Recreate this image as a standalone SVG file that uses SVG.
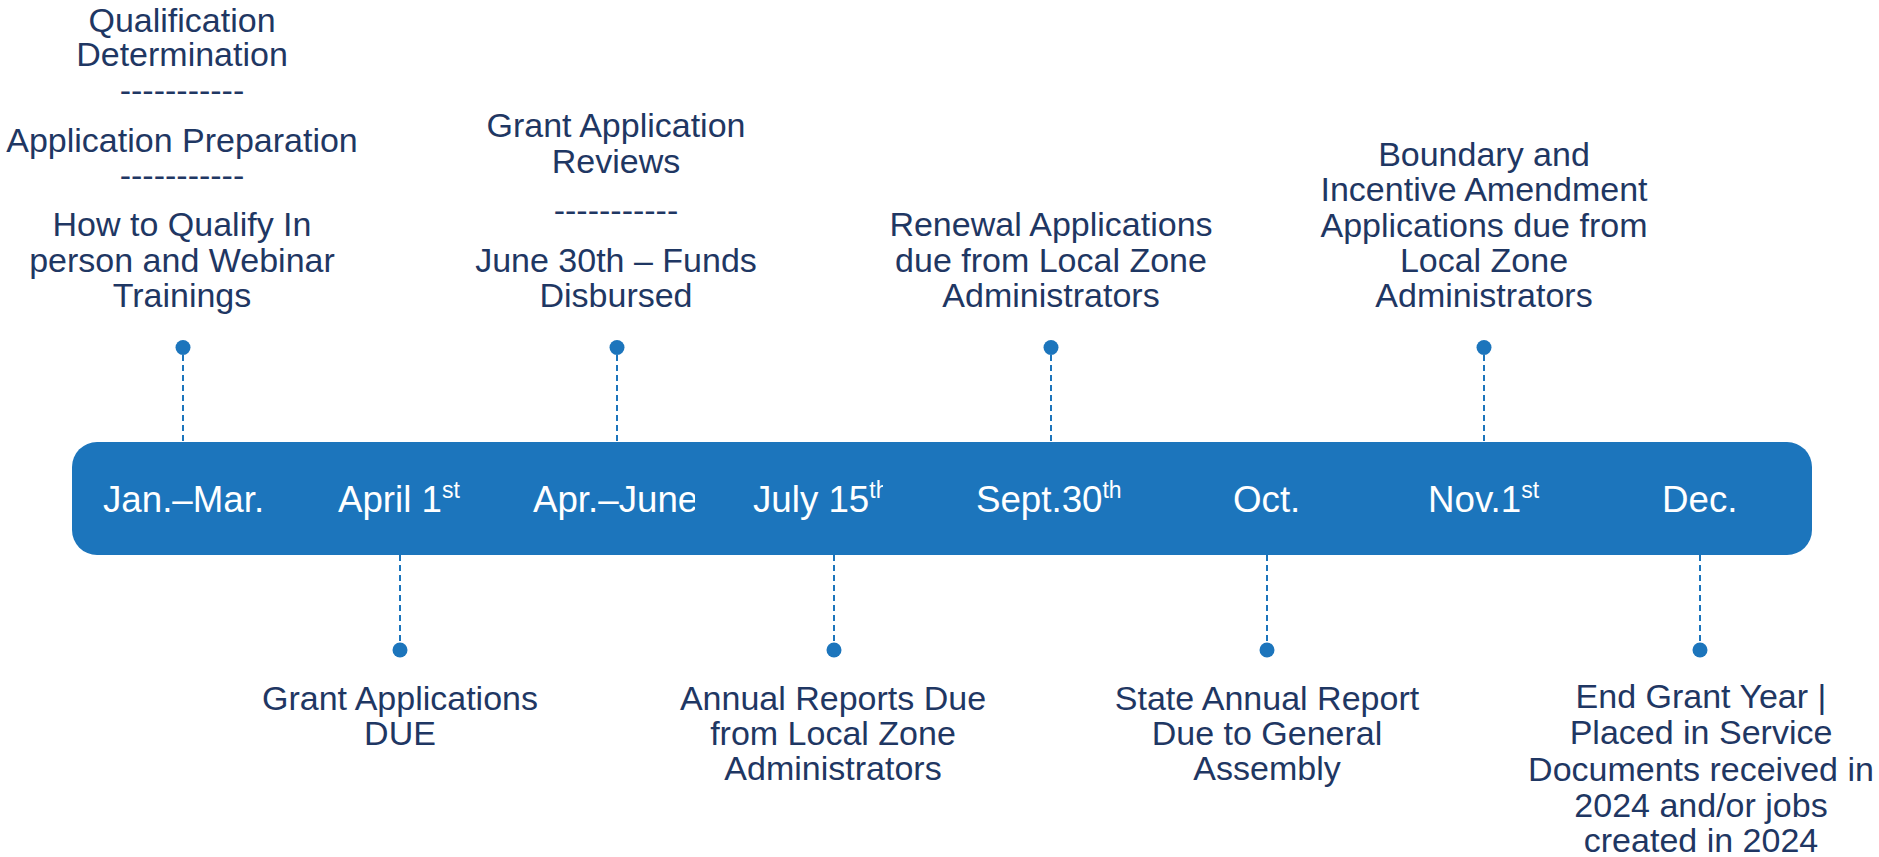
<svg xmlns="http://www.w3.org/2000/svg" width="1879" height="857" viewBox="0 0 1879 857">
  <style>
    .seg { fill: #1C75BC; }
    .month { font-family: "Liberation Sans", Arial, sans-serif; font-size: 36.7px; fill: #FFFFFF; }
    .sup { font-size: 23px; }
    .label { font-family: "Liberation Sans", Arial, sans-serif; font-size: 34px; fill: #1F3763; text-anchor: middle; }
    .lead { fill: none; stroke: #1C75BC; stroke-width: 2; stroke-dasharray: 6 4; }
    .dot { fill: #1C75BC; }
  </style>
  <rect width="1879" height="857" fill="#FFFFFF"/>

  <!-- timeline bar: one segment per period, later segments overlap earlier ones -->
  <g id="bar">
    <g id="seg-jan-mar">
      <path class="seg" d="M97 442 H292 V555 H97 A25 25 0 0 1 72 530 V467 A25 25 0 0 1 97 442 Z"/>
      <text class="month" x="103" y="511.5">Jan.–Mar.</text>
    </g>
    <g id="seg-april-1">
      <rect class="seg" x="292" y="442" width="216" height="113"/>
      <text class="month" x="338" y="511.5">April 1<tspan class="sup" dy="-13.5">st</tspan></text>
    </g>
    <g id="seg-apr-june">
      <rect class="seg" x="508" y="442" width="187" height="113"/>
      <text class="month" x="533" y="511.5">Apr.–June</text>
    </g>
    <g id="seg-july-15">
      <rect class="seg" x="695" y="442" width="188" height="113"/>
      <text class="month" x="753" y="511.5">July 15<tspan class="sup" dy="-13.5">th</tspan></text>
    </g>
    <g id="seg-sept-30">
      <rect class="seg" x="883" y="442" width="275" height="113"/>
      <text class="month" x="976" y="511.5">Sept.30<tspan class="sup" dy="-13.5">th</tspan></text>
    </g>
    <g id="seg-oct">
      <rect class="seg" x="1158" y="442" width="217" height="113"/>
      <text class="month" x="1233" y="511.5">Oct.</text>
    </g>
    <g id="seg-nov-1">
      <rect class="seg" x="1375" y="442" width="218" height="113"/>
      <text class="month" x="1428" y="511.5">Nov.1<tspan class="sup" dy="-13.5">st</tspan></text>
    </g>
    <g id="seg-dec">
      <path class="seg" d="M1593 442 H1787 A25 25 0 0 1 1812 467 V530 A25 25 0 0 1 1787 555 H1593 Z"/>
      <text class="month" x="1662" y="511.5">Dec.</text>
    </g>
  </g>

  <!-- dashed leaders from the bar to each milestone dot -->
  <g id="connectors">
    <line class="lead" x1="183" y1="355" x2="183" y2="442"/>
    <line class="lead" x1="617" y1="355" x2="617" y2="442"/>
    <line class="lead" x1="1051" y1="355" x2="1051" y2="442"/>
    <line class="lead" x1="1484" y1="355" x2="1484" y2="442"/>
    <line class="lead" x1="400" y1="555" x2="400" y2="642"/>
    <line class="lead" x1="834" y1="555" x2="834" y2="642"/>
    <line class="lead" x1="1267" y1="555" x2="1267" y2="642"/>
    <line class="lead" x1="1700" y1="555" x2="1700" y2="642"/>
    <circle class="dot" cx="183" cy="347.5" r="7.5"/>
    <circle class="dot" cx="617" cy="347.5" r="7.5"/>
    <circle class="dot" cx="1051" cy="347.5" r="7.5"/>
    <circle class="dot" cx="1484" cy="347.5" r="7.5"/>
    <circle class="dot" cx="400" cy="650" r="7.5"/>
    <circle class="dot" cx="834" cy="650" r="7.5"/>
    <circle class="dot" cx="1267" cy="650" r="7.5"/>
    <circle class="dot" cx="1700" cy="650" r="7.5"/>
  </g>

  <!-- milestone labels above the bar -->
  <g id="label-jan-mar">
    <text class="label" x="182" y="31.5">Qualification</text>
    <text class="label" x="182" y="66">Determination</text>
    <text class="label" x="182" y="102">-----------</text>
    <text class="label" x="182" y="151.5">Application Preparation</text>
    <text class="label" x="182" y="187">-----------</text>
    <text class="label" x="182" y="236">How to Qualify In</text>
    <text class="label" x="182" y="271.5">person and Webinar</text>
    <text class="label" x="182" y="306.5">Trainings</text>
  </g>
  <g id="label-apr-june">
    <text class="label" x="616" y="136.5">Grant Application</text>
    <text class="label" x="616" y="173">Reviews</text>
    <text class="label" x="616" y="222">-----------</text>
    <text class="label" x="616" y="271.5">June 30th – Funds</text>
    <text class="label" x="616" y="306.5">Disbursed</text>
  </g>
  <g id="label-sept-30">
    <text class="label" x="1051" y="236">Renewal Applications</text>
    <text class="label" x="1051" y="271.5">due from Local Zone</text>
    <text class="label" x="1051" y="306.5">Administrators</text>
  </g>
  <g id="label-nov-1">
    <text class="label" x="1484" y="166">Boundary and</text>
    <text class="label" x="1484" y="201">Incentive Amendment</text>
    <text class="label" x="1484" y="236.5">Applications due from</text>
    <text class="label" x="1484" y="271.5">Local Zone</text>
    <text class="label" x="1484" y="307">Administrators</text>
  </g>

  <!-- milestone labels below the bar -->
  <g id="label-april-1">
    <text class="label" x="400" y="710">Grant Applications</text>
    <text class="label" x="400" y="745">DUE</text>
  </g>
  <g id="label-july-15">
    <text class="label" x="833" y="710">Annual Reports Due</text>
    <text class="label" x="833" y="745">from Local Zone</text>
    <text class="label" x="833" y="780">Administrators</text>
  </g>
  <g id="label-oct">
    <text class="label" x="1267" y="710">State Annual Report</text>
    <text class="label" x="1267" y="745">Due to General</text>
    <text class="label" x="1267" y="780">Assembly</text>
  </g>
  <g id="label-dec">
    <text class="label" x="1701" y="708">End Grant Year |</text>
    <text class="label" x="1701" y="744">Placed in Service</text>
    <text class="label" x="1701" y="780.5">Documents received in</text>
    <text class="label" x="1701" y="817">2024 and/or jobs</text>
    <text class="label" x="1701" y="852">created in 2024</text>
  </g>
</svg>
